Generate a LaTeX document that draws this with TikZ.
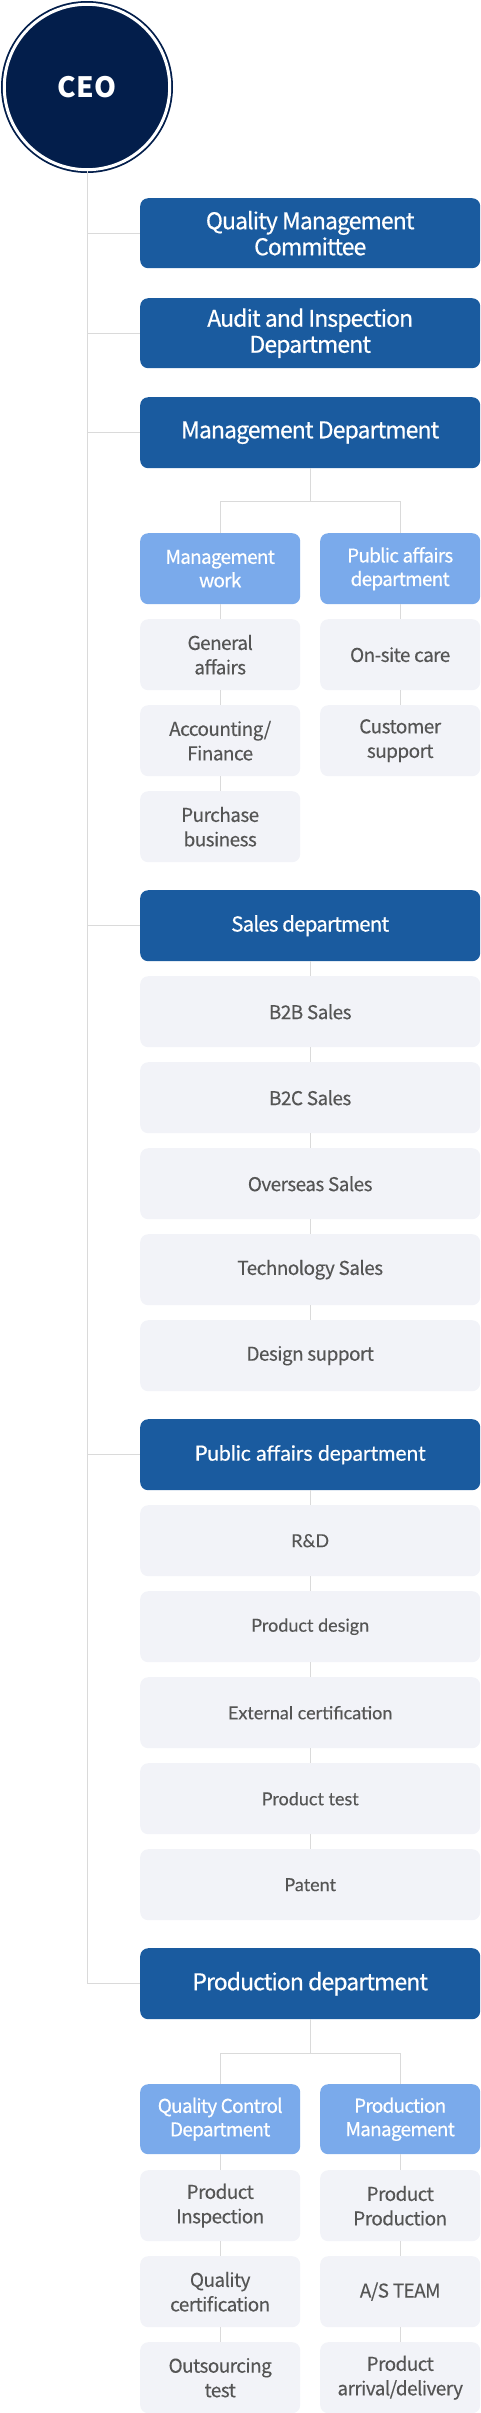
\documentclass[tikz,border=0pt]{standalone}
\usepackage{fontspec}
\setmainfont{Noto Sans CJK KR}
\newfontfamily\deptfont[LetterSpace=-4, FakeBold=0.5]{Noto Sans CJK KR}
\newfontfamily\itemfont[LetterSpace=-3, FakeBold=0.2]{Noto Sans CJK KR}
\newfontfamily\latodept[FakeBold=0.5]{Lato}
\newfontfamily\latoitem[FakeBold=0.2]{Lato}
\definecolor{navy}{RGB}{3,30,75}
\definecolor{dblue}{RGB}{26,91,159}
\definecolor{lblue}{RGB}{122,170,235}
\definecolor{gbox}{RGB}{242,243,248}
\definecolor{gline}{RGB}{218,218,218}
\definecolor{gtext}{RGB}{85,85,85}
\begin{document}
\begin{tikzpicture}[x=1pt,y=-1pt,
  conn/.style={draw=gline, line width=1pt},
  dept/.style={rectangle, rounded corners=8pt, fill=dblue, text=white, minimum width=340pt, minimum height=71pt, anchor=north west, inner sep=0pt, align=center, font=\deptfont\fontsize{23}{26}\selectfont},
  sub/.style={rectangle, rounded corners=8pt, fill=lblue, text=white, minimum width=160pt, minimum height=71pt, anchor=north west, inner sep=0pt, align=center, font=\deptfont\fontsize{19}{23.5}\selectfont},
  item/.style={rectangle, rounded corners=8pt, fill=gbox, text=gtext, minimum width=160pt, minimum height=71pt, anchor=north west, inner sep=0pt, align=center, font=\itemfont\fontsize{19}{24.5}\selectfont},
  wide/.style={item, minimum width=340pt},
  latohead/.style={dept, font=\latodept\fontsize{21}{24}\selectfont},
  latowide/.style={wide, font=\latoitem\fontsize{18}{22}\selectfont},
]
\useasboundingbox (0,0) rectangle (480,2413);
% CEO
\node[circle, minimum size=165.4pt, inner sep=0pt, fill=navy, draw=navy, line width=1.8pt, double=white, double distance=3pt, text=white, font=\fontsize{28}{30}\selectfont\bfseries] (ceo) at (87,87) {CEO};

% departments
\node[dept, minimum height=70pt] (q) at (140,198) {Quality Management\\Committee};
\node[dept, minimum height=70pt] (a) at (140,298) {Audit and Inspection\\Department};
\node[dept] (m) at (140,397) {Management Department};
\node[dept, font=\deptfont\fontsize{20.5}{24}\selectfont] (s) at (140,890) {Sales department};
\node[latohead] (p) at (140,1419) {Public affairs department};
\node[dept] (pr) at (140,1948) {Production department};

% main trunk
\draw[conn] (ceo.south) |- (pr.west);
\foreach \n in {q,a,m,s,p}{\draw[conn] (ceo.south |- \n.west) -- (\n.west);}

% Management department
\node[sub] (mw) at (140,533) {Management\\work};
\node[sub] (pa) at (320,533) {Public affairs\\department};
\node[item] (ga) at (140,619) {General\\affairs};
\node[item] (af) at (140,705) {Accounting/\\Finance};
\node[item] (pb) at (140,791) {Purchase\\business};
\node[item] (oc) at (320,619) {On-site care};
\node[item] (cs) at (320,705) {Customer\\support};
\coordinate (mj) at (310,501);
\draw[conn] (m.south) -- (m.south |- mj);
\draw[conn] (mw.north) |- (m.south |- mj) -| (pa.north);
\draw[conn] (mw.south) -- (ga.north);
\draw[conn] (ga.south) -- (af.north);
\draw[conn] (af.south) -- (pb.north);
\draw[conn] (pa.south) -- (oc.north);
\draw[conn] (oc.south) -- (cs.north);

% Sales department
\node[wide] (s1) at (140,976) {B2B Sales};
\node[wide] (s2) at (140,1062) {B2C Sales};
\node[wide] (s3) at (140,1148) {Overseas Sales};
\node[wide] (s4) at (140,1234) {Technology Sales};
\node[wide] (s5) at (140,1320) {Design support};
\draw[conn] (s.south) -- (s1.north);
\draw[conn] (s1.south) -- (s2.north);
\draw[conn] (s2.south) -- (s3.north);
\draw[conn] (s3.south) -- (s4.north);
\draw[conn] (s4.south) -- (s5.north);

% Public affairs department
\node[latowide] (p1) at (140,1505) {R\&D};
\node[latowide] (p2) at (140,1591) {Product design};
\node[latowide] (p3) at (140,1677) {External certification};
\node[latowide] (p4) at (140,1763) {Product test};
\node[latowide] (p5) at (140,1849) {Patent};
\draw[conn] (p.south) -- (p1.north);
\draw[conn] (p1.south) -- (p2.north);
\draw[conn] (p2.south) -- (p3.north);
\draw[conn] (p3.south) -- (p4.north);
\draw[conn] (p4.south) -- (p5.north);

% Production department
\node[sub, minimum height=70pt] (qc) at (140,2084) {Quality Control\\Department};
\node[sub, minimum height=70pt] (pm) at (320,2084) {Production\\Management};
\node[item] (q1) at (140,2170) {Product\\Inspection};
\node[item] (q2) at (140,2256) {Quality\\certification};
\node[item] (q3) at (140,2342) {Outsourcing\\test};
\node[item] (m1) at (320,2170) {Product\\Production};
\node[item] (m2) at (320,2256) {A/S TEAM};
\node[item] (m3) at (320,2342) {Product\\arrival/delivery};
\coordinate (pj) at (310,2053);
\draw[conn] (pr.south) -- (pr.south |- pj);
\draw[conn] (qc.north) |- (pr.south |- pj) -| (pm.north);
\draw[conn] (qc.south) -- (q1.north);
\draw[conn] (q1.south) -- (q2.north);
\draw[conn] (q2.south) -- (q3.north);
\draw[conn] (pm.south) -- (m1.north);
\draw[conn] (m1.south) -- (m2.north);
\draw[conn] (m2.south) -- (m3.north);
\end{tikzpicture}
\end{document}
